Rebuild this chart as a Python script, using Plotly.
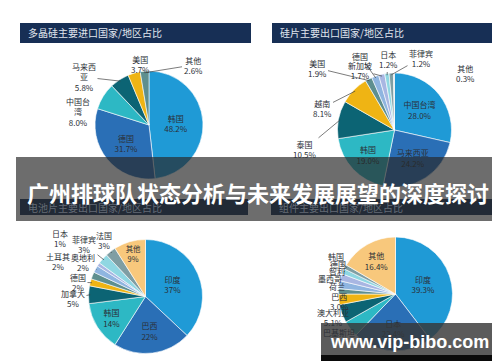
import math
import plotly.graph_objects as go

W, H = 500, 362

# ---------------- data ----------------
p1_title = "多晶硅主要进口国家/地区占比"
p1_labels = ["韩国", "德国", "中国台湾", "马来西亚", "美国", "其他"]
p1_values = [48.2, 31.7, 8.0, 5.8, 3.7, 2.6]

p2_title = "硅片主要出口国家/地区占比"
p2_labels = ["中国台湾", "马来西亚", "韩国", "泰国", "越南", "美国", "德国", "新加坡", "日本", "菲律宾", "其他"]
p2_values = [28.0, 24.2, 19.0, 10.5, 8.1, 1.9, 2.0, 1.7, 1.2, 1.2, 0.3]

p3_title = "电池片主要出口国家/地区占比"
p3_labels = ["印度", "巴西", "韩国", "加拿大", "德国", "土耳其", "奥地利", "日本", "菲律宾", "法国", "其他"]
p3_values = [37, 22, 14, 5, 2, 2, 2, 1, 3, 3, 9]

p4_title = "组件主要出口国家/地区占比"
p4_labels = ["印度", "日本", "巴基斯坦", "澳大利亚", "巴西", "荷兰", "墨西哥", "智利", "德国", "韩国", "其他"]
p4_values = [39.3, 22.4, 4.6, 5.1, 3.0, 1.5, 2.2, 2.0, 1.5, 1.2, 16.4]

main_title = "广州排球队状态分析与未来发展展望的深度探讨"
watermark = "www.vip-bibo.com"

# ---------------- styles ----------------
LB, MB, TE, DT, YE, GT, LBG, LAV, LC, GR, OR = (
    "#1f9ad6", "#2a6fb6", "#2db8c4", "#0c6474", "#efb414", "#5e8f8f",
    "#8fb5e0", "#a8b6e2", "#8fd7e2", "#7f9ea3", "#f8c87c")
p1_colors = [LB, MB, TE, DT, YE, GT]
p2_colors = [LB, MB, TE, DT, YE, GT, LBG, LAV, LC, GR, "#b9c9cf"]
p3_colors = [LB, MB, TE, DT, YE, GT, LBG, LAV, LC, GR, OR]
p4_colors = [LB, MB, TE, DT, YE, GT, LBG, LAV, LC, GR, OR]

FONT = "Noto Sans CJK SC"
TXT = "#2b2f36"

# pie geometry: (center x px, center y px, radius px)
geo = [(141, 117, 54), (386.5, 122, 57), (137.5, 288.5, 57), (387.5, 286, 57)]

def dom(cx, cy, r):
    return dict(x=[(cx - r) / W, (cx + r) / W], y=[1 - (cy + r) / H, 1 - (cy - r) / H])

# inside-text slices and templates
pies = [
    (p1_labels, p1_values, p1_colors, {"韩国", "德国"}, "%{label}<br>%{value:.1f}%"),
    (p2_labels, p2_values, p2_colors, {"中国台湾", "马来西亚", "韩国"}, "%{label}<br>%{value:.1f}%"),
    (p3_labels, p3_values, p3_colors, {"印度", "巴西", "韩国", "其他"}, "%{label}<br>%{value:.0f}%"),
    (p4_labels, p4_values, p4_colors, {"印度", "日本", "其他"}, "%{label}<br>%{value:.1f}%"),
]

# outside labels: label -> (text, px, py, leader line)
outside = [
    {"中国台湾": ("中国台<br>湾<br>8.0%", 70, 104, False),
     "马来西亚": ("马来西<br>亚<br>5.8%", 76, 69, True),
     "美国": ("美国<br>3.7%", 132, 57, False),
     "其他": ("其他<br>2.6%", 185, 57, True)},
    {"泰国": ("泰国<br>10.5%", 297, 141, True),
     "越南": ("越南<br>8.1%", 314, 100, True),
     "美国": ("美国<br>1.9%", 309, 60, True),
     "德国": ("德国", 352, 48, True),
     "新加坡": ("新加坡<br>1.7%", 352, 62, True),
     "日本": ("日本<br>1.2%", 380, 52, True),
     "菲律宾": ("菲律宾<br>1.2%", 413, 50, True),
     "其他": ("其他<br>0.3%", 457, 65, False)},
    {"加拿大": ("加拿大<br>5%", 65, 290, True),
     "德国": ("德国<br>2%", 70, 274, True),
     "土耳其": ("土耳其<br>2%", 50, 253, False),
     "奥地利": ("奥地利<br>2%", 75, 254, True),
     "日本": ("日本<br>1%", 52, 230, False),
     "菲律宾": ("菲律宾<br>3%", 76, 236, True),
     "法国": ("法国<br>3%", 96, 232, True)},
    {"韩国": ("韩国", 328, 248, True),
     "德国": ("德国", 330, 256, True),
     "智利": ("智利", 329, 263, True),
     "墨西哥": ("墨西哥", 322, 270, True),
     "荷兰": ("荷兰", 329, 278, True),
     "巴西": ("巴西<br>3.0%", 331, 293, True),
     "澳大利亚": ("澳大利亚<br>5.1%", 325, 309, True),
     "巴基斯坦": ("巴基斯坦", 331, 324, True)},
]

fig = go.Figure()
annotations = []
for (labels, values, colors, inside, tmpl), (cx, cy, r), outs in zip(pies, geo, outside):
    pos = ["inside" if l in inside else "none" for l in labels]
    fig.add_trace(go.Pie(
        labels=labels, values=values, sort=False, direction="clockwise", rotation=0,
        marker=dict(colors=colors, line=dict(color="white", width=0.6)),
        textposition=pos, texttemplate=tmpl, insidetextorientation="horizontal",
        textfont=dict(family=FONT, size=8, color=TXT),
        domain=dom(cx, cy, r), showlegend=False, hoverinfo="label+value"))
    total = sum(values)
    cum = 0
    for l, v in zip(labels, values):
        mid = (cum + v / 2) / total * 2 * math.pi
        cum += v
        if l not in outs:
            continue
        text, px, py, line = outs[l]
        tx = cx + r * 0.97 * math.sin(mid)
        ty = cy - r * 0.97 * math.cos(mid)
        if line:
            annotations.append(dict(
                x=tx / W, y=1 - ty / H, xref="paper", yref="paper",
                ax=px - tx, ay=py - ty, axref="pixel", ayref="pixel",
                text=text, showarrow=True, arrowhead=0, arrowwidth=0.7,
                arrowcolor="#444", standoff=0, startstandoff=0,
                font=dict(family=FONT, size=8, color=TXT), align="center"))
        else:
            annotations.append(dict(
                x=px / W, y=1 - py / H, xref="paper", yref="paper",
                text=text, showarrow=False, xanchor="center", yanchor="middle",
                font=dict(family=FONT, size=8, color=TXT), align="center"))

shapes = []
NAVY = "#172f55"
headers = [(12, 15, 243, 35, p1_title, 1.0), (264, 15, 491, 35, p2_title, 1.0),
           (12, 191, 240, 207, p3_title, 0.35), (263, 191, 492, 207, p4_title, 0.35)]
for x0, y0, x1, y1, t, op in headers:
    shapes.append(dict(type="rect", xref="paper", yref="paper", layer="below",
                       x0=x0 / W, x1=x1 / W, y0=1 - y1 / H, y1=1 - y0 / H,
                       fillcolor=NAVY, line=dict(width=0)))
    annotations.append(dict(x=(x0 + 6) / W, y=1 - ((y0 + y1) / 2) / H, xref="paper", yref="paper",
                            text=t, showarrow=False, xanchor="left", yanchor="middle",
                            font=dict(family=FONT, size=10, color="rgba(225,230,238,%s)" % op)))

# banner
shapes.append(dict(type="rect", xref="paper", yref="paper", layer="above",
                   x0=8 / W, x1=492 / W, y0=1 - 213 / H, y1=1 - 149 / H,
                   fillcolor="rgba(40,40,40,0.68)", line=dict(width=0)))
annotations.append(dict(x=250 / W, y=1 - 184 / H, xref="paper", yref="paper",
                        text="<b>%s</b>" % main_title, showarrow=False,
                        xanchor="center", yanchor="middle",
                        font=dict(family=FONT, size=22, color="white")))

# watermark
shapes.append(dict(type="rect", xref="paper", yref="paper", layer="above",
                   x0=313 / W, x1=491 / W, y0=1 - 347 / H, y1=1 - 315 / H,
                   fillcolor="rgba(55,55,55,0.82)", line=dict(width=0)))
shapes.append(dict(type="rect", xref="paper", yref="paper", layer="above",
                   x0=313 / W, x1=491 / W, y0=1 - 353 / H, y1=1 - 347 / H,
                   fillcolor="#0a0a0a", line=dict(width=0)))
annotations.append(dict(x=401 / W, y=1 - 334 / H, xref="paper", yref="paper",
                        text="<b>%s</b>" % watermark, showarrow=False,
                        xanchor="center", yanchor="middle",
                        font=dict(family="Liberation Sans", size=18, color="white")))

fig.update_layout(width=W, height=H, margin=dict(l=0, r=0, t=0, b=0),
                  paper_bgcolor="white", plot_bgcolor="white",
                  shapes=shapes, annotations=annotations)
fig.write_html("out.html")
